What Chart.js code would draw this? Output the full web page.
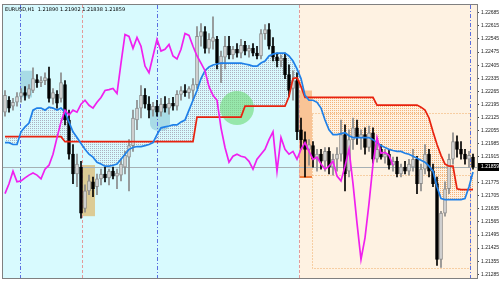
<!DOCTYPE html>
<html>
<head>
<meta charset="utf-8">
<script src="https://cdn.jsdelivr.net/npm/chart.js@4/dist/chart.umd.min.js"></script>
<style>
  html, body { margin: 0; padding: 0; background: #fff; }
</style>
</head>
<body>
<canvas id="chart" width="500" height="283"></canvas>
<script>
const symbolTitle = 'EURUSD,H1  1.21890 1.21902 1.21838 1.21859';

// H1 candles, oldest first
const opens = [
  1.22153,1.22217,1.22185,1.22206,1.22237,1.22258,1.22243,1.22269,1.22328,1.22311,
  1.22322,1.22333,1.22227,1.22248,1.22227,1.22301,1.22111,1.21928,1.21822,1.21859,
  1.21638,1.21732,1.21780,1.21754,1.21796,1.21822,1.21801,1.21837,1.21811,1.21816,
  1.21859,1.21912,1.21974,1.22111,1.22175,1.22243,1.22196,1.22164,1.22185,1.22153,
  1.22196,1.22175,1.22201,1.22185,1.22248,1.22269,1.22258,1.22269,1.22301,1.22559,
  1.22585,1.22495,1.22532,1.22543,1.22416,1.22448,1.22506,1.22459,1.22490,1.22469,
  1.22511,1.22480,1.22495,1.22469,1.22454,1.22574,1.22596,1.22506,1.22448,1.22427,
  1.22443,1.22354,1.22280,1.22322,1.22059,1.22006,1.21954,1.21974,1.21901,1.21928,
  1.21890,1.21943,1.21859,1.21901,1.21928,1.22033,1.21837,1.22006,1.22069,1.22017,
  1.22033,1.21964,1.22043,1.21901,1.21954,1.21912,1.21928,1.21869,1.21890,1.21822,
  1.21859,1.21837,1.21859,1.21901,1.21770,1.21848,1.21928,1.21837,1.21770,1.21364,
  1.21612,1.21743,1.21901,1.21995,1.21954,1.21928,1.21901,1.21912
];
const highs = [
  1.22269,1.22237,1.22227,1.22258,1.22280,1.22290,1.22301,1.22390,1.22354,1.22343,
  1.22364,1.22395,1.22280,1.22269,1.22364,1.22322,1.22164,1.21980,1.21928,1.21890,
  1.21764,1.21816,1.21806,1.21822,1.21848,1.21859,1.21848,1.21859,1.21848,1.21901,
  1.21943,1.22006,1.22164,1.22217,1.22296,1.22280,1.22237,1.22206,1.22217,1.22227,
  1.22237,1.22227,1.22232,1.22269,1.22290,1.22301,1.22290,1.22333,1.22612,1.22627,
  1.22612,1.22574,1.22664,1.22559,1.22480,1.22559,1.22559,1.22506,1.22521,1.22543,
  1.22532,1.22511,1.22521,1.22506,1.22596,1.22622,1.22627,1.22553,1.22469,1.22459,
  1.22469,1.22406,1.22375,1.22364,1.22122,1.22048,1.22006,1.21995,1.21954,1.21954,
  1.21964,1.21964,1.21928,1.21964,1.22111,1.22085,1.22059,1.22122,1.22111,1.22059,
  1.22069,1.22079,1.22069,1.21990,1.21980,1.21954,1.21954,1.21912,1.21912,1.21875,
  1.21890,1.21901,1.21954,1.21917,1.21875,1.21980,1.21954,1.21875,1.21806,1.21622,
  1.21780,1.21928,1.22043,1.22027,1.21995,1.21954,1.21943,1.21928
];
const lows = [
  1.22132,1.22153,1.22164,1.22185,1.22206,1.22217,1.22227,1.22258,1.22285,1.22290,
  1.22301,1.22206,1.22196,1.22175,1.22206,1.22085,1.21901,1.21770,1.21754,1.21585,
  1.21617,1.21711,1.21701,1.21711,1.21764,1.21780,1.21764,1.21796,1.21743,1.21785,
  1.21822,1.21732,1.21943,1.22059,1.22122,1.22175,1.22122,1.22132,1.22132,1.22132,
  1.22153,1.22143,1.22164,1.22164,1.22217,1.22237,1.22227,1.22217,1.22280,1.22506,
  1.22469,1.22469,1.22490,1.22385,1.22311,1.22385,1.22438,1.22438,1.22448,1.22443,
  1.22459,1.22448,1.22454,1.22438,1.22438,1.22543,1.22490,1.22427,1.22395,1.22395,
  1.22333,1.22237,1.22217,1.22006,1.21954,1.21806,1.21869,1.21859,1.21837,1.21848,
  1.21837,1.21822,1.21816,1.21837,1.21890,1.21732,1.21806,1.21954,1.21980,1.21954,
  1.21928,1.21943,1.21880,1.21885,1.21901,1.21880,1.21848,1.21837,1.21806,1.21806,
  1.21822,1.21816,1.21837,1.21717,1.21732,1.21822,1.21806,1.21754,1.21333,1.21322,
  1.21596,1.21717,1.21875,1.21912,1.21901,1.21875,1.21859,1.21848
];
const closes = [
  1.22243,1.22175,1.22206,1.22237,1.22258,1.22243,1.22280,1.22333,1.22311,1.22322,
  1.22338,1.22227,1.22258,1.22201,1.22311,1.22111,1.21928,1.21822,1.21875,1.21612,
  1.21732,1.21785,1.21743,1.21796,1.21822,1.21801,1.21837,1.21811,1.21827,1.21875,
  1.21922,1.21974,1.22122,1.22175,1.22243,1.22196,1.22164,1.22185,1.22153,1.22196,
  1.22175,1.22201,1.22185,1.22248,1.22269,1.22258,1.22280,1.22301,1.22559,1.22585,
  1.22495,1.22543,1.22553,1.22416,1.22454,1.22506,1.22459,1.22490,1.22469,1.22511,
  1.22480,1.22495,1.22469,1.22454,1.22574,1.22596,1.22506,1.22448,1.22427,1.22443,
  1.22354,1.22269,1.22322,1.22048,1.22006,1.21954,1.21980,1.21901,1.21928,1.21890,
  1.21943,1.21859,1.21901,1.21928,1.22033,1.21822,1.22006,1.22069,1.22017,1.22033,
  1.21964,1.22043,1.21901,1.21954,1.21912,1.21928,1.21869,1.21890,1.21822,1.21859,
  1.21837,1.21875,1.21901,1.21770,1.21848,1.21928,1.21837,1.21770,1.21364,1.21612,
  1.21743,1.21901,1.21995,1.21954,1.21928,1.21901,1.21922,1.21859
];

// ichimoku lines
const tenkan = [
  1.21990,1.21990,1.21980,1.21980,1.22048,1.22074,1.22095,1.22164,1.22175,1.22175,
  1.22164,1.22180,1.22175,1.22164,1.22175,1.22153,1.22100,1.22048,1.22017,1.21985,
  1.21954,1.21928,1.21912,1.21885,1.21875,1.21864,1.21864,1.21869,1.21875,1.21901,
  1.21928,1.21954,1.21964,1.21969,1.21969,1.21974,1.21980,1.21990,1.22033,1.22069,
  1.22074,1.22079,1.22085,1.22085,1.22100,1.22111,1.22164,1.22217,1.22269,1.22333,
  1.22375,1.22395,1.22406,1.22411,1.22416,1.22416,1.22416,1.22416,1.22416,1.22416,
  1.22411,1.22406,1.22400,1.22400,1.22416,1.22427,1.22454,1.22464,1.22469,1.22469,
  1.22469,1.22454,1.22427,1.22385,1.22333,1.22243,1.22217,1.22217,1.22206,1.22175,
  1.22111,1.22059,1.22033,1.22033,1.22038,1.22043,1.22027,1.22017,1.22017,1.22017,
  1.22017,1.22017,1.22006,1.21990,1.21974,1.21964,1.21954,1.21948,1.21943,1.21943,
  1.21933,1.21928,1.21917,1.21906,1.21896,1.21885,1.21864,1.21837,1.21754,1.21690,
  1.21685,1.21685,1.21685,1.21685,1.21685,1.21690,1.21754,1.21833
];
const kijun = [
  1.22022,1.22022,1.22022,1.22022,1.22022,1.22022,1.22022,1.22022,1.22022,1.22022,
  1.22022,1.22022,1.22022,1.22022,1.22022,1.21995,1.21995,1.21995,1.21995,1.21995,
  1.21995,1.21995,1.21995,1.21995,1.21995,1.21995,1.21995,1.21995,1.21995,1.21995,
  1.21995,1.21995,1.21995,1.21995,1.21995,1.21995,1.21995,1.21995,1.21995,1.21995,
  1.21995,1.21995,1.21995,1.21995,1.21995,1.21995,1.21995,1.21995,1.22127,1.22127,
  1.22127,1.22127,1.22127,1.22127,1.22127,1.22127,1.22127,1.22127,1.22127,1.22127,
  1.22185,1.22185,1.22185,1.22185,1.22185,1.22185,1.22185,1.22185,1.22185,1.22185,
  1.22185,1.22237,1.22333,1.22338,1.22290,1.22232,1.22232,1.22232,1.22232,1.22232,
  1.22232,1.22232,1.22232,1.22232,1.22232,1.22232,1.22232,1.22232,1.22232,1.22232,
  1.22232,1.22232,1.22232,1.22191,1.22191,1.22191,1.22191,1.22191,1.22191,1.22191,
  1.22191,1.22191,1.22191,1.22191,1.22180,1.22164,1.22122,1.22048,1.21980,1.21922,
  1.21875,1.21864,1.21864,1.21743,1.21738,1.21738,1.21738,1.21738
];
const chikou = [
  1.21717,1.21770,1.21837,1.21780,1.21785,1.21801,1.21816,1.21827,1.21816,1.21796,
  1.21848,1.21869,1.21928,1.22017,1.22100,1.22164,1.22138,1.22164,1.22153,1.22196,
  1.22217,1.22190,1.22175,1.22206,1.22232,1.22269,1.22274,1.22280,1.22253,1.22416,
  1.22569,1.22559,1.22495,1.22553,1.22506,1.22400,1.22364,1.22454,1.22543,1.22480,
  1.22490,1.22516,1.22454,1.22438,1.22490,1.22574,1.22564,1.22506,1.22454,1.22416,
  1.22375,1.22290,1.22243,1.22217,1.22069,1.21964,1.21885,1.21917,1.21928,1.21917,
  1.21912,1.21890,1.21848,1.21901,1.21928,1.21954,1.22006,1.22048,1.21837,1.22017,
  1.21954,1.21928,1.21943,1.21901,1.21954,1.21990,1.21943,1.21901,1.21912,1.21875,
  1.21848,1.21864,1.21890,1.21811,1.21785,1.21864,1.21954,1.21770,1.21559,1.21364,
  1.21480,1.21664,1.21875,1.22017,1.21933,1.21938,1.21922,1.21869
];

const priceTicks = [
  1.22685, 1.22615, 1.22545, 1.22475, 1.22405, 1.22335, 1.22265, 1.22195, 1.22125, 1.22055, 1.21985,
  1.21915, 1.21845, 1.21775, 1.21705, 1.21635, 1.21565, 1.21495, 1.21425, 1.21355, 1.21285
];

// drawn objects, in bar index / price units
const splitBar = 73.5;
const blueSeparators = [3.75, 38, 116.25];
const redSeparators = [19.25, 73.5];
const boxes = [
  { from: 3.75, to: 6.75, top: 1.22375, bottom: 1.22232, color: '#a8dbe6' },
  { from: 36.25, to: 41.25, top: 1.22185, bottom: 1.22054, color: '#a8dbe6', radius: 7 },
  { from: 19.25, to: 22.5, top: 1.21870, bottom: 1.21596, color: '#dccb95' },
  { from: 73.5, to: 76.75, top: 1.22269, bottom: 1.21806, color: '#f9c496' }
];
const dottedFrame = { from: 76.75, to: 116.25, top: 1.22149, mid: 1.21817, bottom: 1.21317 };
const greenSpot = { bar: 58, price: 1.22175 };

const bars = opens.map((_, i) => i);
const isBull = i => closes[i] >= opens[i];
const points = arr => arr.map((v, i) => ({ x: i, y: v }));

let dotCache = null;
function dotPattern(chart) {
  const xs = chart.scales.x;
  const split = xs ? Math.round(xs.getPixelForValue(splitBar)) : NaN;
  if (!Number.isFinite(split)) return 'rgba(0,0,0,0)';
  if (dotCache && dotCache.split === split) return dotCache.pattern;
  const c = document.createElement('canvas');
  c.width = chart.width;
  c.height = 2;
  const g = c.getContext('2d');
  for (let px = 0; px < c.width; px += 2) {
    g.fillStyle = px < split ? '#aeb0c0' : '#f4b278';
    g.fillRect(px, 0, 1, 1);
  }
  dotCache = { split, pattern: chart.ctx.createPattern(c, 'repeat') };
  return dotCache.pattern;
}

function vline(ctx, a, px, color, dash) {
  const xx = Math.round(px) + 0.5;
  ctx.strokeStyle = color;
  ctx.setLineDash(dash);
  ctx.beginPath();
  ctx.moveTo(xx, a.top);
  ctx.lineTo(xx, a.bottom);
  ctx.stroke();
}

const decor = {
  id: 'decor',
  beforeDraw(chart) {
    const { ctx, chartArea: a, scales: { x } } = chart;
    const sx = Math.round(x.getPixelForValue(splitBar));
    ctx.save();
    ctx.fillStyle = '#ffffff';
    ctx.fillRect(0, 0, chart.width, chart.height);
    ctx.fillStyle = '#d8fafe';
    ctx.fillRect(a.left, a.top, sx - a.left, a.bottom - a.top);
    ctx.fillStyle = '#fef2e2';
    ctx.fillRect(sx, a.top, a.right - sx, a.bottom - a.top);
    ctx.restore();
  },
  beforeDatasetsDraw(chart) {
    const { ctx, chartArea: a, scales: { x, y } } = chart;
    ctx.save();
    boxes.forEach(b => {
      const x0 = x.getPixelForValue(b.from), x1 = x.getPixelForValue(b.to);
      const y0 = y.getPixelForValue(b.top), y1 = y.getPixelForValue(b.bottom);
      ctx.fillStyle = b.color;
      ctx.beginPath();
      if (b.radius && ctx.roundRect) ctx.roundRect(x0, y0, x1 - x0, y1 - y0, b.radius);
      else ctx.rect(x0, y0, x1 - x0, y1 - y0);
      ctx.fill();
    });

    // orange base under the band
    const band = boxes[3];
    ctx.strokeStyle = '#f07a3a';
    ctx.lineWidth = 2;
    ctx.beginPath();
    ctx.moveTo(x.getPixelForValue(band.from), y.getPixelForValue(band.bottom));
    ctx.lineTo(x.getPixelForValue(band.to), y.getPixelForValue(band.bottom));
    ctx.stroke();

    // dotted frame on the right
    ctx.lineWidth = 1;
    ctx.strokeStyle = '#f0ab62';
    ctx.setLineDash([1, 2]);
    const fx0 = Math.round(x.getPixelForValue(dottedFrame.from)) + 0.5;
    const fx1 = Math.round(x.getPixelForValue(dottedFrame.to)) + 0.5;
    const ft = Math.round(y.getPixelForValue(dottedFrame.top)) + 0.5;
    const fm = Math.round(y.getPixelForValue(dottedFrame.mid)) + 0.5;
    const fb = Math.round(y.getPixelForValue(dottedFrame.bottom)) + 0.5;
    ctx.strokeRect(fx0, ft, fx1 - fx0, fb - ft);
    ctx.beginPath();
    ctx.moveTo(fx0, fm);
    ctx.lineTo(fx1, fm);
    ctx.stroke();

    // separators
    blueSeparators.forEach(b => vline(ctx, a, x.getPixelForValue(b), '#5a6ee0', [4, 2, 1, 2]));
    redSeparators.forEach(b => vline(ctx, a, x.getPixelForValue(b), '#e39a9a', [3, 2]));

    // bid line
    ctx.setLineDash([]);
    ctx.strokeStyle = '#a6b0b4';
    const by = Math.round(y.getPixelForValue(closes[closes.length - 1])) + 0.5;
    ctx.beginPath();
    ctx.moveTo(a.left, by);
    ctx.lineTo(a.right, by);
    ctx.stroke();
    ctx.restore();
  },
  afterDatasetDraw(chart, args) {
    if (args.index !== 0) return;
    const { ctx, scales: { x, y } } = chart;
    ctx.save();
    ctx.fillStyle = 'rgba(110, 220, 120, 0.62)';
    ctx.beginPath();
    ctx.arc(x.getPixelForValue(greenSpot.bar), y.getPixelForValue(greenSpot.price), 17, 0, Math.PI * 2);
    ctx.fill();
    ctx.restore();
  },
  afterDraw(chart) {
    const { ctx, chartArea: a, scales: { y } } = chart;
    ctx.save();
    ctx.strokeStyle = '#808080';
    ctx.lineWidth = 1;
    ctx.strokeRect(a.left - 0.5, a.top - 0.5, a.right - a.left + 1, a.bottom - a.top + 1);

    const last = closes[closes.length - 1];
    const ly = Math.round(y.getPixelForValue(last));
    ctx.fillStyle = '#000';
    ctx.fillRect(a.right + 1, ly - 4, chart.width - a.right - 2, 8);
    ctx.fillStyle = '#fff';
    ctx.font = '5px "Liberation Sans"';
    ctx.textBaseline = 'middle';
    ctx.fillText(last.toFixed(5), a.right + 4, ly);

    ctx.fillStyle = '#000';
    ctx.font = '5px "DejaVu Sans"';
    ctx.textBaseline = 'top';
    ctx.fillText(symbolTitle, a.left + 2, a.top + 2);
    ctx.restore();
  }
};

new Chart(document.getElementById('chart'), {
  type: 'bar',
  data: {
    datasets: [
      {
        type: 'line',
        label: 'cloud',
        data: points(tenkan),
        borderColor: 'rgba(0,0,0,0)',
        borderWidth: 0,
        pointRadius: 0,
        fill: { target: 4 },
        backgroundColor: ctx => dotPattern(ctx.chart),
        order: 10
      },
      {
        label: 'wick',
        data: bars.map(i => ({ x: i, y: [lows[i], highs[i]] })),
        barThickness: 1,
        grouped: false,
        borderSkipped: false,
        backgroundColor: ctx => isBull(ctx.dataIndex) ? '#8a8a8a' : '#000000',
        order: 9
      },
      {
        label: 'body',
        data: bars.map(i => ({ x: i, y: [opens[i], closes[i]] })),
        barThickness: 3,
        grouped: false,
        borderSkipped: false,
        borderWidth: 1,
        backgroundColor: ctx => isBull(ctx.dataIndex) ? '#dcdcdc' : '#000000',
        borderColor: ctx => isBull(ctx.dataIndex) ? '#8a8a8a' : '#000000',
        order: 8
      },
      {
        type: 'line',
        label: 'tenkan',
        data: points(tenkan),
        borderColor: '#1f80e8',
        borderWidth: 1.7,
        pointRadius: 0,
        tension: 0,
        order: 2
      },
      {
        type: 'line',
        label: 'kijun',
        data: points(kijun),
        borderColor: '#e8220e',
        borderWidth: 1.7,
        pointRadius: 0,
        tension: 0,
        order: 3
      },
      {
        type: 'line',
        label: 'chikou',
        data: points(chikou),
        borderColor: '#f020ee',
        borderWidth: 1.7,
        pointRadius: 0,
        tension: 0,
        order: 1
      }
    ]
  },
  options: {
    responsive: false,
    animation: false,
    layout: { padding: { left: 3, top: 3, right: 0, bottom: 2 } },
    plugins: {
      legend: { display: false },
      tooltip: { enabled: false }
    },
    scales: {
      x: { type: 'linear', min: -0.5, max: 118, offset: false, display: false },
      y: {
        position: 'right',
        min: 1.21265,
        max: 1.22727,
        beginAtZero: false,
        bounds: 'data',
        afterBuildTicks: axis => { axis.ticks = priceTicks.map(v => ({ value: v })); },
        afterFit: axis => { axis.width = 23; },
        ticks: {
          autoSkip: false,
          padding: 2,
          color: '#222',
          font: { family: 'Liberation Sans', size: 5 },
          callback: v => Number(v).toFixed(5)
        },
        grid: { drawOnChartArea: false, tickLength: 2, color: '#444' },
        border: { display: true, color: '#444' }
      }
    }
  },
  plugins: [decor]
});
</script>
</body>
</html>
